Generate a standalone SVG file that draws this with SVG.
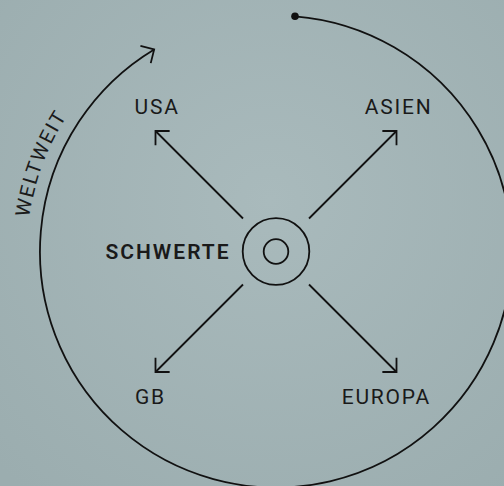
<svg xmlns="http://www.w3.org/2000/svg" width="504" height="486" viewBox="0 0 504 486">
  <defs>
    <radialGradient id="bg" cx="270" cy="200" r="380" gradientUnits="userSpaceOnUse">
      <stop offset="0" stop-color="#a9babc"/>
      <stop offset="1" stop-color="#9badaf"/>
    </radialGradient>
    <marker id="arrow" markerUnits="userSpaceOnUse" viewBox="-14 -14 28 28" markerWidth="28" markerHeight="28" refX="0" refY="0" orient="auto" overflow="visible">
      <path d="M -10 -10 L 0 0 L -10 10" fill="none" stroke="#111" stroke-width="1.8" stroke-linejoin="miter"/>
    </marker>
    <path id="weltPath" d="M 27 251.5 A 249 249 0 0 1 276 2.5"/>
  </defs>
  <style>
    .line { fill: none; stroke: #111; stroke-width: 1.8; }
    .lbl { font-family: Roboto, "Liberation Sans", sans-serif; font-size: 21px; letter-spacing: 1.8px; fill: #1a1a1a; }
    .bold { font-weight: 600; letter-spacing: 2px; }
    .small { font-size: 20px; letter-spacing: 1.8px; }
  </style>
  <rect width="504" height="486" fill="url(#bg)"/>

  <g id="connectors">
    <path class="line" d="M 295 16.3 A 236 236 0 1 1 154.15 49.4" marker-end="url(#arrow)"/>
    <circle cx="295" cy="16.3" r="3.8" fill="#111"/>
    <line class="line" x1="243" y1="218.5" x2="155.5" y2="131" marker-end="url(#arrow)"/>
    <line class="line" x1="309" y1="218.5" x2="396.5" y2="131" marker-end="url(#arrow)"/>
    <line class="line" x1="243" y1="284.5" x2="155.5" y2="372" marker-end="url(#arrow)"/>
    <line class="line" x1="309" y1="284.5" x2="396.5" y2="372" marker-end="url(#arrow)"/>
  </g>

  <g id="weltweit">
    <text class="lbl small"><textPath href="#weltPath" startOffset="34">WELTWEIT</textPath></text>
  </g>

  <g id="schwerte">
    <circle class="line" cx="276" cy="251.5" r="33.3"/>
    <circle class="line" cx="276" cy="251.5" r="12.3"/>
    <text class="lbl bold" x="230.6" y="258.5" text-anchor="end">SCHWERTE</text>
  </g>
  <g id="usa">
    <text class="lbl" x="134.5" y="114">USA</text>
  </g>
  <g id="asien">
    <text class="lbl" x="432.5" y="114" text-anchor="end">ASIEN</text>
  </g>
  <g id="gb">
    <text class="lbl" x="135" y="404">GB</text>
  </g>
  <g id="europa">
    <text class="lbl" x="431" y="404" text-anchor="end">EUROPA</text>
  </g>
</svg>
